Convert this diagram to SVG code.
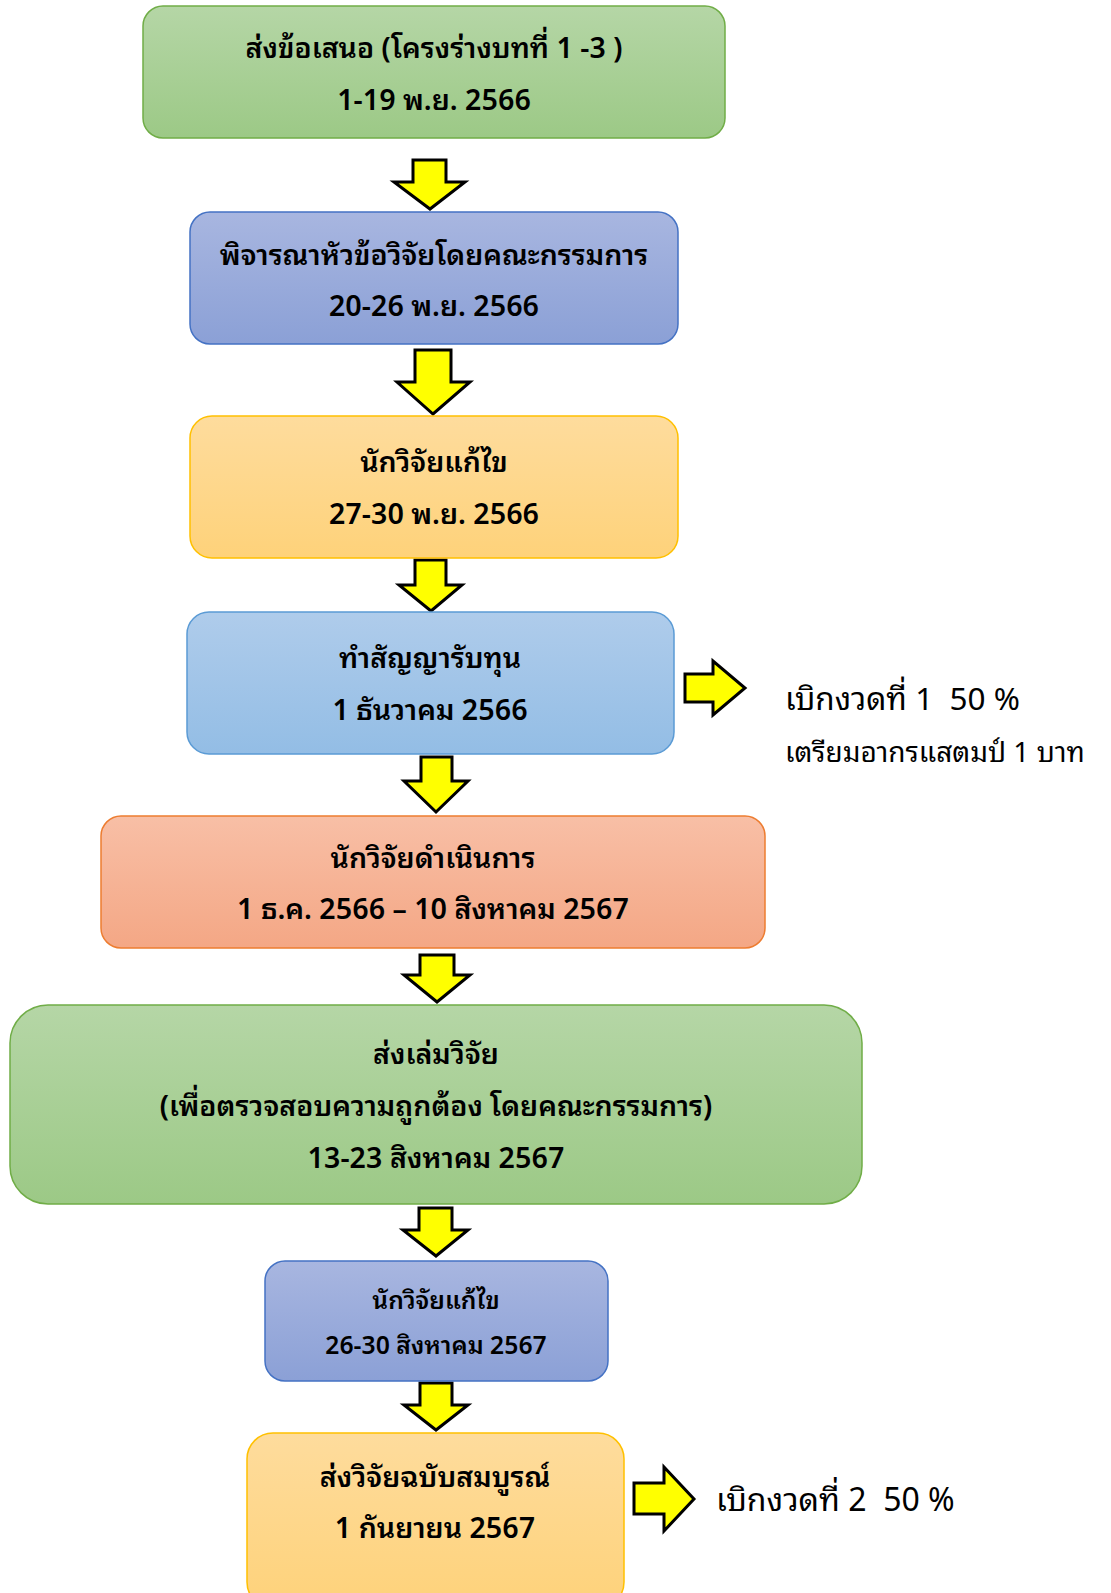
<svg xmlns="http://www.w3.org/2000/svg" width="1111" height="1593" viewBox="0 0 1111 1593">
<style>
.t{font-family:"Noto Sans Thai Looped","Noto Sans Thai","Noto Sans","DejaVu Sans",sans-serif;font-weight:600;font-size:28.5px;fill:#000;text-anchor:middle}
.t7{font-size:24.6px}
.s{font-family:"Noto Sans Thai Looped","Noto Sans Thai","Noto Sans","DejaVu Sans",sans-serif;font-weight:400;fill:#000;white-space:pre}
.ar{fill:#ffff00;stroke:#000;stroke-width:3;stroke-linejoin:miter}
</style>
<defs>
<linearGradient id="gG" x1="0" y1="0" x2="0" y2="1"><stop offset="0" stop-color="#b5d6a6"/><stop offset="1" stop-color="#9cc986"/></linearGradient>
<linearGradient id="gB" x1="0" y1="0" x2="0" y2="1"><stop offset="0" stop-color="#a8b6e0"/><stop offset="1" stop-color="#8ba0d6"/></linearGradient>
<linearGradient id="gO" x1="0" y1="0" x2="0" y2="1"><stop offset="0" stop-color="#fedc9d"/><stop offset="1" stop-color="#fed27a"/></linearGradient>
<linearGradient id="gL" x1="0" y1="0" x2="0" y2="1"><stop offset="0" stop-color="#afcceb"/><stop offset="1" stop-color="#93bde5"/></linearGradient>
<linearGradient id="gS" x1="0" y1="0" x2="0" y2="1"><stop offset="0" stop-color="#f8bfa6"/><stop offset="1" stop-color="#f4a785"/></linearGradient>
</defs>

<g id="connectors">
<polygon class="ar" points="413,160 446,160 446,182 465,182 430,209 394,182 413,182"/>
<polygon class="ar" points="415,350 451,350 451,382 470,382 433,414 397,382 415,382"/>
<polygon class="ar" points="415,560 446,560 446,585 462,585 431,611 399,585 415,585"/>
<polygon class="ar" points="421,757 452,757 452,781 468,781 436,812 404,781 421,781"/>
<polygon class="ar" points="420,955 454,955 454,975 470,975 437,1002 404,975 420,975"/>
<polygon class="ar" points="419,1208 452,1208 452,1230 468,1230 436,1256 403,1230 419,1230"/>
<polygon class="ar" points="420,1383 452,1383 452,1405 468,1405 436,1430 404,1405 420,1405"/>
<polygon class="ar" points="685,674 713,674 713,661 745,688 713,715 713,702 685,702"/>
<polygon class="ar" points="634,1483 664,1483 664,1467 694,1499 664,1531 664,1514 634,1514"/>
</g>

<g id="n1">
<rect x="143" y="6" width="582" height="132" rx="20" fill="url(#gG)" stroke="#70ad47" stroke-width="1.5"/>
<text class="t" x="434" y="58">ส่งข้อเสนอ (โครงร่างบทที่ 1 -3 )</text>
<text class="t" x="434" y="110">1-19 พ.ย. 2566</text>
</g>
<g id="n2">
<rect x="190" y="212" width="488" height="132" rx="20" fill="url(#gB)" stroke="#4472c4" stroke-width="1.5"/>
<text class="t" x="434" y="265">พิจารณาหัวข้อวิจัยโดยคณะกรรมการ</text>
<text class="t" x="434" y="316">20-26 พ.ย. 2566</text>
</g>
<g id="n3">
<rect x="190" y="416" width="488" height="142" rx="22" fill="url(#gO)" stroke="#ffc000" stroke-width="1.5"/>
<text class="t" x="434" y="472">นักวิจัยแก้ไข</text>
<text class="t" x="434" y="524">27-30 พ.ย. 2566</text>
</g>
<g id="n4">
<rect x="187" y="612" width="487" height="142" rx="22" fill="url(#gL)" stroke="#5b9bd5" stroke-width="1.5"/>
<text class="t" x="430" y="668">ทำสัญญารับทุน</text>
<text class="t" x="430" y="720">1 ธันวาคม 2566</text>
</g>
<g id="n4note">
<text class="s" x="785" y="710" font-size="31.5">เบิกงวดที่ 1  50 %</text>
<text class="s" x="785" y="762" font-size="28">เตรียมอากรแสตมป์ 1 บาท</text>
</g>
<g id="n5">
<rect x="101" y="816" width="664" height="132" rx="20" fill="url(#gS)" stroke="#ed7d31" stroke-width="1.5"/>
<text class="t" x="433" y="868">นักวิจัยดำเนินการ</text>
<text class="t" x="433" y="919">1 ธ.ค. 2566 – 10 สิงหาคม 2567</text>
</g>
<g id="n6">
<rect x="10" y="1005" width="852" height="199" rx="38" fill="url(#gG)" stroke="#70ad47" stroke-width="1.5"/>
<text class="t" x="436" y="1064">ส่งเล่มวิจัย</text>
<text class="t" x="436" y="1116">(เพื่อตรวจสอบความถูกต้อง โดยคณะกรรมการ)</text>
<text class="t" x="436" y="1168">13-23 สิงหาคม 2567</text>
</g>
<g id="n7">
<rect x="265" y="1261" width="343" height="120" rx="20" fill="url(#gB)" stroke="#4472c4" stroke-width="1.5"/>
<text class="t t7" x="436" y="1309">นักวิจัยแก้ไข</text>
<text class="t t7" x="436" y="1354">26-30 สิงหาคม 2567</text>
</g>
<g id="n8">
<rect x="247" y="1433" width="377" height="175" rx="26" fill="url(#gO)" stroke="#ffc000" stroke-width="1.5"/>
<text class="t" x="435" y="1487">ส่งวิจัยฉบับสมบูรณ์</text>
<text class="t" x="435" y="1538">1 กันยายน 2567</text>
</g>
<g id="n8note">
<text class="s" x="716" y="1511" font-size="32">เบิกงวดที่ 2  50 %</text>
</g>
</svg>
